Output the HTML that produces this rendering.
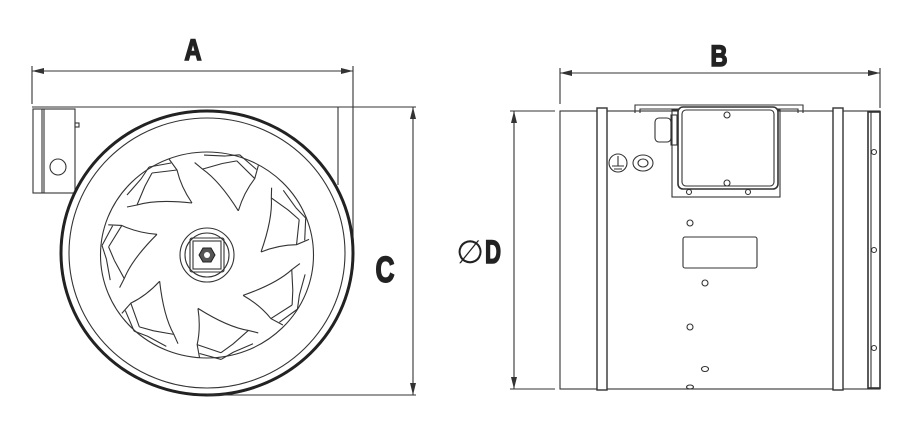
<!DOCTYPE html>
<html><head><meta charset="utf-8"><style>
html,body{margin:0;padding:0;background:#fff;}
svg{display:block;}
.l{fill:none;stroke:#333;stroke-width:1.1}
.t{font-family:"Liberation Sans Narrow","Liberation Sans",sans-serif;font-weight:bold;fill:#222;stroke:#222;stroke-width:1.6}
</style></head><body>
<svg width="917" height="439" viewBox="0 0 917 439" xmlns="http://www.w3.org/2000/svg">
<defs>
<marker id="ar" markerWidth="12" markerHeight="6" refX="12" refY="3" orient="auto-start-reverse" markerUnits="userSpaceOnUse"><path d="M0,0 L12,3 L0,6 Z" fill="#333"/></marker>
</defs>
<!-- LEFT VIEW -->
<text class="t" x="193" y="60" font-size="30" text-anchor="middle" textLength="17" lengthAdjust="spacingAndGlyphs">A</text>
<line x1="32" y1="71" x2="353" y2="71" class="l" marker-start="url(#ar)" marker-end="url(#ar)"/>
<line x1="32" y1="66" x2="32" y2="104" class="l"/>
<line x1="353" y1="66" x2="353" y2="270" class="l"/>
<!-- housing -->
<path d="M32,107 H338 V185" class="l" stroke-width="1.4"/>
<rect x="33" y="109" width="42" height="84" class="l" stroke-width="1.3"/>
<line x1="42" y1="109" x2="42" y2="193" class="l"/>
<line x1="44" y1="109" x2="44" y2="193" class="l"/>
<circle cx="58" cy="167" r="8" class="l"/>
<rect x="75" y="123" width="4" height="4" class="l"/>
<!-- circles -->
<ellipse cx="207" cy="253" rx="146" ry="142" fill="#fff" stroke="#222" stroke-width="3"/>
<ellipse cx="207" cy="253" rx="138" ry="135" class="l"/>
<ellipse cx="207" cy="255" rx="106.5" ry="103" class="l"/>
<g transform="translate(207,255)">
<g id="bl">
<path d="M-15,-52 Q-26,-68 -30,-85 L-38,-96 M-15,-52 Q-50,-56 -70,-50 L-80,-48" class="l"/>
<path d="M-30,-85 L-55,-82 M-36,-92 L-58,-88 M-55,-82 L-62,-69 M-58,-88 L-66,-76 M-62,-69 L-70,-50 M-66,-76 L-80,-60" class="l"/>
</g>
<use href="#bl" transform="rotate(51.43)"/>
<use href="#bl" transform="rotate(102.86)"/>
<use href="#bl" transform="rotate(154.29)"/>
<use href="#bl" transform="rotate(205.71)"/>
<use href="#bl" transform="rotate(257.14)"/>
<use href="#bl" transform="rotate(308.57)"/>
<circle r="27" class="l"/>
<circle r="22" class="l"/>
<rect x="-17" y="-17" width="34" height="34" rx="2" class="l" stroke-width="1.4"/>
<rect x="-14" y="-14" width="28" height="28" class="l"/>
<polygon points="8,0 4,7 -4,7 -8,0 -4,-7 4,-7" fill="#555" stroke="#222"/>
<circle r="3" fill="#fff"/>
</g>
<!-- C -->
<line x1="338" y1="107" x2="416" y2="107" class="l"/>
<line x1="207" y1="395" x2="416" y2="395" class="l"/>
<line x1="413" y1="107" x2="413" y2="395" class="l" marker-start="url(#ar)" marker-end="url(#ar)"/>
<text class="t" x="385" y="282" font-size="36" text-anchor="middle" textLength="19" lengthAdjust="spacingAndGlyphs">C</text>

<!-- RIGHT VIEW -->
<text class="t" x="719" y="66" font-size="30" text-anchor="middle" textLength="17" lengthAdjust="spacingAndGlyphs">B</text>
<line x1="560" y1="73" x2="880" y2="73" class="l" marker-start="url(#ar)" marker-end="url(#ar)"/>
<line x1="560" y1="68" x2="560" y2="104" class="l"/>
<line x1="880" y1="68" x2="880" y2="108" class="l"/>
<line x1="510" y1="111" x2="555" y2="111" class="l"/>
<line x1="510" y1="389" x2="555" y2="389" class="l"/>
<line x1="514" y1="111" x2="514" y2="389" class="l" marker-start="url(#ar)" marker-end="url(#ar)"/>
<text x="470" y="263" font-size="32" text-anchor="middle" font-family="Liberation Sans, sans-serif" fill="#222">∅</text>
<text class="t" x="493" y="263" font-size="32" text-anchor="middle" textLength="16" lengthAdjust="spacingAndGlyphs">D</text>
<!-- tube -->
<rect x="560" y="111" width="320" height="278" class="l" stroke-width="1.3"/>
<rect x="597" y="108" width="10" height="282" fill="#fff" stroke="#333" stroke-width="1.4"/>
<rect x="833" y="108" width="10" height="282" fill="#fff" stroke="#333" stroke-width="1.4"/>
<rect x="868" y="112" width="12" height="276" fill="#fff" stroke="#333" stroke-width="1.6"/>
<line x1="871" y1="112" x2="871" y2="388" class="l"/>
<circle cx="874" cy="152" r="2.5" class="l"/><circle cx="874" cy="250" r="2.5" class="l"/><circle cx="874" cy="348" r="2.5" class="l"/>
<!-- top plate and box -->
<path d="M635,113 V105 H803 V113 M640,113 V109 H798 V113" class="l" stroke-width="1.3"/>
<rect x="672" y="110" width="108" height="87" fill="#fff" class="l"/>
<rect x="678" y="107" width="100" height="82" rx="5" fill="#fff" stroke="#333" stroke-width="1.6"/>
<rect x="682" y="110" width="92" height="76" rx="4" class="l"/>
<circle cx="727" cy="115" r="3" class="l"/><circle cx="727" cy="183" r="3" class="l"/>
<circle cx="689" cy="192" r="2.5" class="l"/><circle cx="748" cy="192" r="2.5" class="l"/>
<rect x="655" y="118" width="16" height="24" rx="4" class="l"/>
<rect x="671" y="115" width="6" height="30" class="l"/>
<circle cx="618" cy="163" r="9" class="l"/>
<path d="M618,156 V166 M612,166 H624 M614,169 H622" class="l"/>
<ellipse cx="643" cy="163" rx="10" ry="8" class="l" stroke-width="2"/>
<ellipse cx="643" cy="163" rx="5" ry="4" class="l"/>
<!-- label and screws -->
<rect x="683" y="237" width="74" height="31" rx="2" class="l"/>
<circle cx="690" cy="223" r="3" class="l"/>
<circle cx="705" cy="283" r="3" class="l"/>
<circle cx="690" cy="327" r="3" class="l"/>
<ellipse cx="705" cy="369" rx="3.5" ry="2.5" class="l"/>
<ellipse cx="690" cy="387" rx="3.5" ry="2" class="l"/>
</svg>
</body></html>
